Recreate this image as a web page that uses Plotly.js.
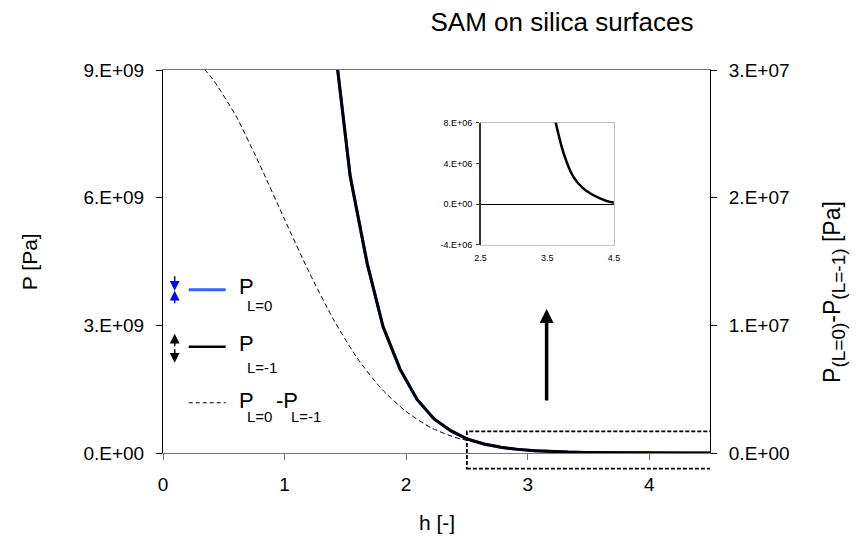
<!DOCTYPE html>
<html><head><meta charset="utf-8">
<script src="https://cdn.plot.ly/plotly-3.0.1.min.js"></script>
<style>body{margin:0;background:#fff}#chart{width:859px;height:540px}</style>
</head><body><div id="chart"></div>
<script>
// ---- data ----
const hL1 = [1.40,1.54,1.68,1.81,1.95,2.09,2.23,2.37,2.50,2.64,2.78,2.92,3.06,3.19,3.33,3.47,3.61,3.75,3.89,4.03,4.16,4.30,4.44,4.50];
const pL1 = [9.9e9,6.5e9,4.45e9,2.97e9,1.97e9,1.26e9,0.80e9,0.52e9,0.33e9,0.21e9,0.135e9,0.085e9,0.054e9,0.034e9,0.021e9,0.013e9,8.5e6,4.9e6,2.7e6,1.6e6,1.0e6,0.55e6,0.22e6,0.15e6];
const hL0 = [1.40,1.54,1.68,1.81,1.95,2.09,2.23,2.37,2.50,2.64,2.78,2.92,3.06,3.19,3.33,3.47,3.61,3.75,3.89,4.03,4.16,4.30,4.44,4.50];
const pL0 = [9.9e9,6.5e9,4.45e9,2.97e9,1.97e9,1.26e9,0.80e9,0.52e9,0.33e9,0.21e9,0.135e9,0.085e9,0.054e9,0.034e9,0.021e9,0.013e9,8.5e6,4.9e6,2.7e6,1.6e6,1.0e6,0.55e6,0.22e6,0.15e6];
const hDiff = [0.2,0.4,0.6,0.8,1.0,1.2,1.4,1.6,1.8,2.0,2.2,2.4,2.6,2.8,3.0,3.2,3.5,3.8,4.1,4.5];
const pDiff = [3.14e7,2.94e7,2.64e7,2.25e7,1.83e7,1.42e7,1.05e7,0.74e7,0.50e7,0.325e7,0.20e7,0.123e7,0.078e7,0.046e7,0.027e7,0.016e7,0.007e7,0.003e7,0.001e7,0.0003e7];

const xTicks = [0,1,2,3,4];
const yTicks = [0,3e9,6e9,9e9];
const yTickText = ['0.E+00','3.E+09','6.E+09','9.E+09'];
const y2Ticks = [0,1e7,2e7,3e7];
const y2TickText = ['0.E+00','1.E+07','2.E+07','3.E+07'];
const insetXTicks = [2.5,3.5,4.5];
const insetYTicks = [-4e6,0,4e6,8e6];
const insetYTickText = ['-4.E+06','0.E+00','4.E+06','8.E+06'];

const F = 'Liberation Sans, Arial, sans-serif';

const traces = [
  {x:hDiff, y:pDiff, yaxis:'y2', xaxis:'x', mode:'lines', line:{color:'#000', width:1, dash:'5px,3px', shape:'spline', smoothing:0.6}, name:'diff', showlegend:false, hoverinfo:'skip'},
  {x:hL0, y:pL0, mode:'lines', line:{color:'rgb(51,102,255)', width:3}, name:'PL0', showlegend:false},
  {x:hL1, y:pL1, mode:'lines', line:{color:'#000', width:3}, name:'PL1', showlegend:false},
  {x:hL1, y:pL1, xaxis:'x2', yaxis:'y3', mode:'lines', line:{color:'#000', width:2.5, shape:'spline'}, showlegend:false}
];

function px2x(p){return (p-163.3)/546.7;}
function py2y(p){return (453.3-p)/383.3;}

const ann = [];
function txt(t, x, y, size, extra){ann.push(Object.assign({text:t, x:px2x(x), y:py2y(y), xref:'paper', yref:'paper', showarrow:false, xanchor:'left', yanchor:'middle', font:{family:F, size:size, color:'#000'}}, extra||{}));}
function arr(x, ytip, ay, color, w, size, head){ann.push({text:'', x:px2x(x), y:py2y(ytip), xref:'paper', yref:'paper', showarrow:true, ax:0, ay:ay, arrowcolor:color, arrowwidth:w, arrowsize:size, arrowhead:head, standoff:0, startstandoff:0});}

// legend texts
txt('P', 237, 287, 22); txt('L=0', 245, 306, 15);
txt('P', 237, 344, 22); txt('L=-1', 245, 368, 15);
txt('P', 237, 401, 22); txt('L=0', 245, 417, 15);
txt('-P', 274, 401, 22); txt('L=-1', 289, 417, 15);
// legend arrow icons
arr(175, 291, -16, 'rgb(0,0,255)', 1.5, 1.3, 2);
arr(175, 291, 14, 'rgb(0,0,255)', 1.5, 1.3, 2);
arr(175, 334, 14, '#000', 1.5, 1.3, 2);
arr(175, 363, -15, '#000', 1.5, 1.3, 2);
// big arrow
arr(546.7, 309.3, 93, '#000', 3.5, 0.8, 2);
// axis titles
ann.push({text:'P [Pa]', x:px2x(30), y:0.5, xref:'paper', yref:'paper', showarrow:false, textangle:-90, xanchor:'center', yanchor:'middle', font:{family:F, size:21, color:'#000'}});
ann.push({text:'P<sub><span style="font-size:19px">(L=0)</span></sub>-P<sub><span style="font-size:19px">(L=-1)</span></sub> [Pa]', x:px2x(834), y:py2y(292), xref:'paper', yref:'paper', showarrow:false, textangle:-90, xanchor:'center', yanchor:'middle', font:{family:F, size:23, color:'#000'}});
ann.push({text:'h [-]', x:0.5, y:py2y(523), xref:'paper', yref:'paper', showarrow:false, xanchor:'center', yanchor:'middle', font:{family:F, size:21, color:'#000'}});

const shapes = [
  // legend samples
  {type:'line', xref:'paper', yref:'paper', x0:px2x(189), x1:px2x(226), y0:py2y(290), y1:py2y(290), line:{color:'rgb(51,102,255)', width:3}},
  {type:'line', xref:'paper', yref:'paper', x0:px2x(189), x1:px2x(226), y0:py2y(347), y1:py2y(347), line:{color:'#000', width:2.5}},
  {type:'line', xref:'paper', yref:'paper', x0:px2x(189), x1:px2x(226), y0:py2y(403), y1:py2y(403), line:{color:'#000', width:1.2, dash:'4px,3px'}},
  // dashed zoom rectangle
  {type:'rect', xref:'x', yref:'paper', x0:2.5, x1:4.52, y0:-0.041, y1:0.0564, line:{color:'#000', width:1.8, dash:'4px,2px'}},
  // inset frame
  {type:'rect', xref:'x2 domain', yref:'y3 domain', x0:0, x1:1, y0:0, y1:1, line:{color:'#999', width:1.2}, layer:'below'}
];

const layout = {
  width:859, height:540,
  margin:{l:163, r:149, t:70, b:87},
  paper_bgcolor:'#fff', plot_bgcolor:'#fff',
  font:{family:F, size:19, color:'#000'},
  showlegend:false,
  title:{text:'SAM on silica surfaces', x:562/859, xref:'container', xanchor:'center', y:(540-22)/540, yanchor:'middle', font:{family:F, size:26, color:'#000'}},
  xaxis:{range:[0,4.5], tickvals:xTicks, ticktext:xTicks.map(String), showgrid:false, zeroline:false, showline:true, linecolor:'#777', linewidth:1.2, mirror:true, ticks:'outside', ticklen:6, tickcolor:'#777', ticklabelstandoff:8, tickfont:{family:F, size:19}},
  yaxis:{range:[0,9e9], tickvals:yTicks, ticktext:yTickText, showgrid:false, zeroline:false, showline:true, linecolor:'#000', linewidth:1, ticks:'outside', ticklen:6, tickcolor:'#000', ticklabelstandoff:8, tickfont:{family:F, size:19}},
  yaxis2:{range:[0,3e7], overlaying:'y', side:'right', anchor:'x', tickvals:y2Ticks, ticktext:y2TickText, showgrid:false, zeroline:false, showline:true, linecolor:'#000', linewidth:1, ticks:'outside', ticklen:6, tickcolor:'#000', ticklabelstandoff:8, tickfont:{family:F, size:19}},
  xaxis2:{domain:[0.5806,0.8244], anchor:'y3', range:[2.5,4.5], tickvals:insetXTicks, ticktext:['2.5','3.5','4.5'], showgrid:false, zeroline:false, showline:false, ticks:'', ticklabelstandoff:6, tickfont:{family:F, size:9}},
  yaxis3:{domain:[0.5434,0.8625], anchor:'x2', range:[-4e6,8e6], tickvals:insetYTicks, ticktext:insetYTickText, showgrid:false, zeroline:true, zerolinecolor:'#000', zerolinewidth:1, showline:true, linecolor:'#333', linewidth:1.5, ticks:'outside', ticklen:3, tickcolor:'#333', ticklabelstandoff:2, tickfont:{family:F, size:9}},
  annotations:ann,
  shapes:shapes
};

Plotly.newPlot('chart', traces, layout, {staticPlot:true, displayModeBar:false});
</script>
</body></html>
